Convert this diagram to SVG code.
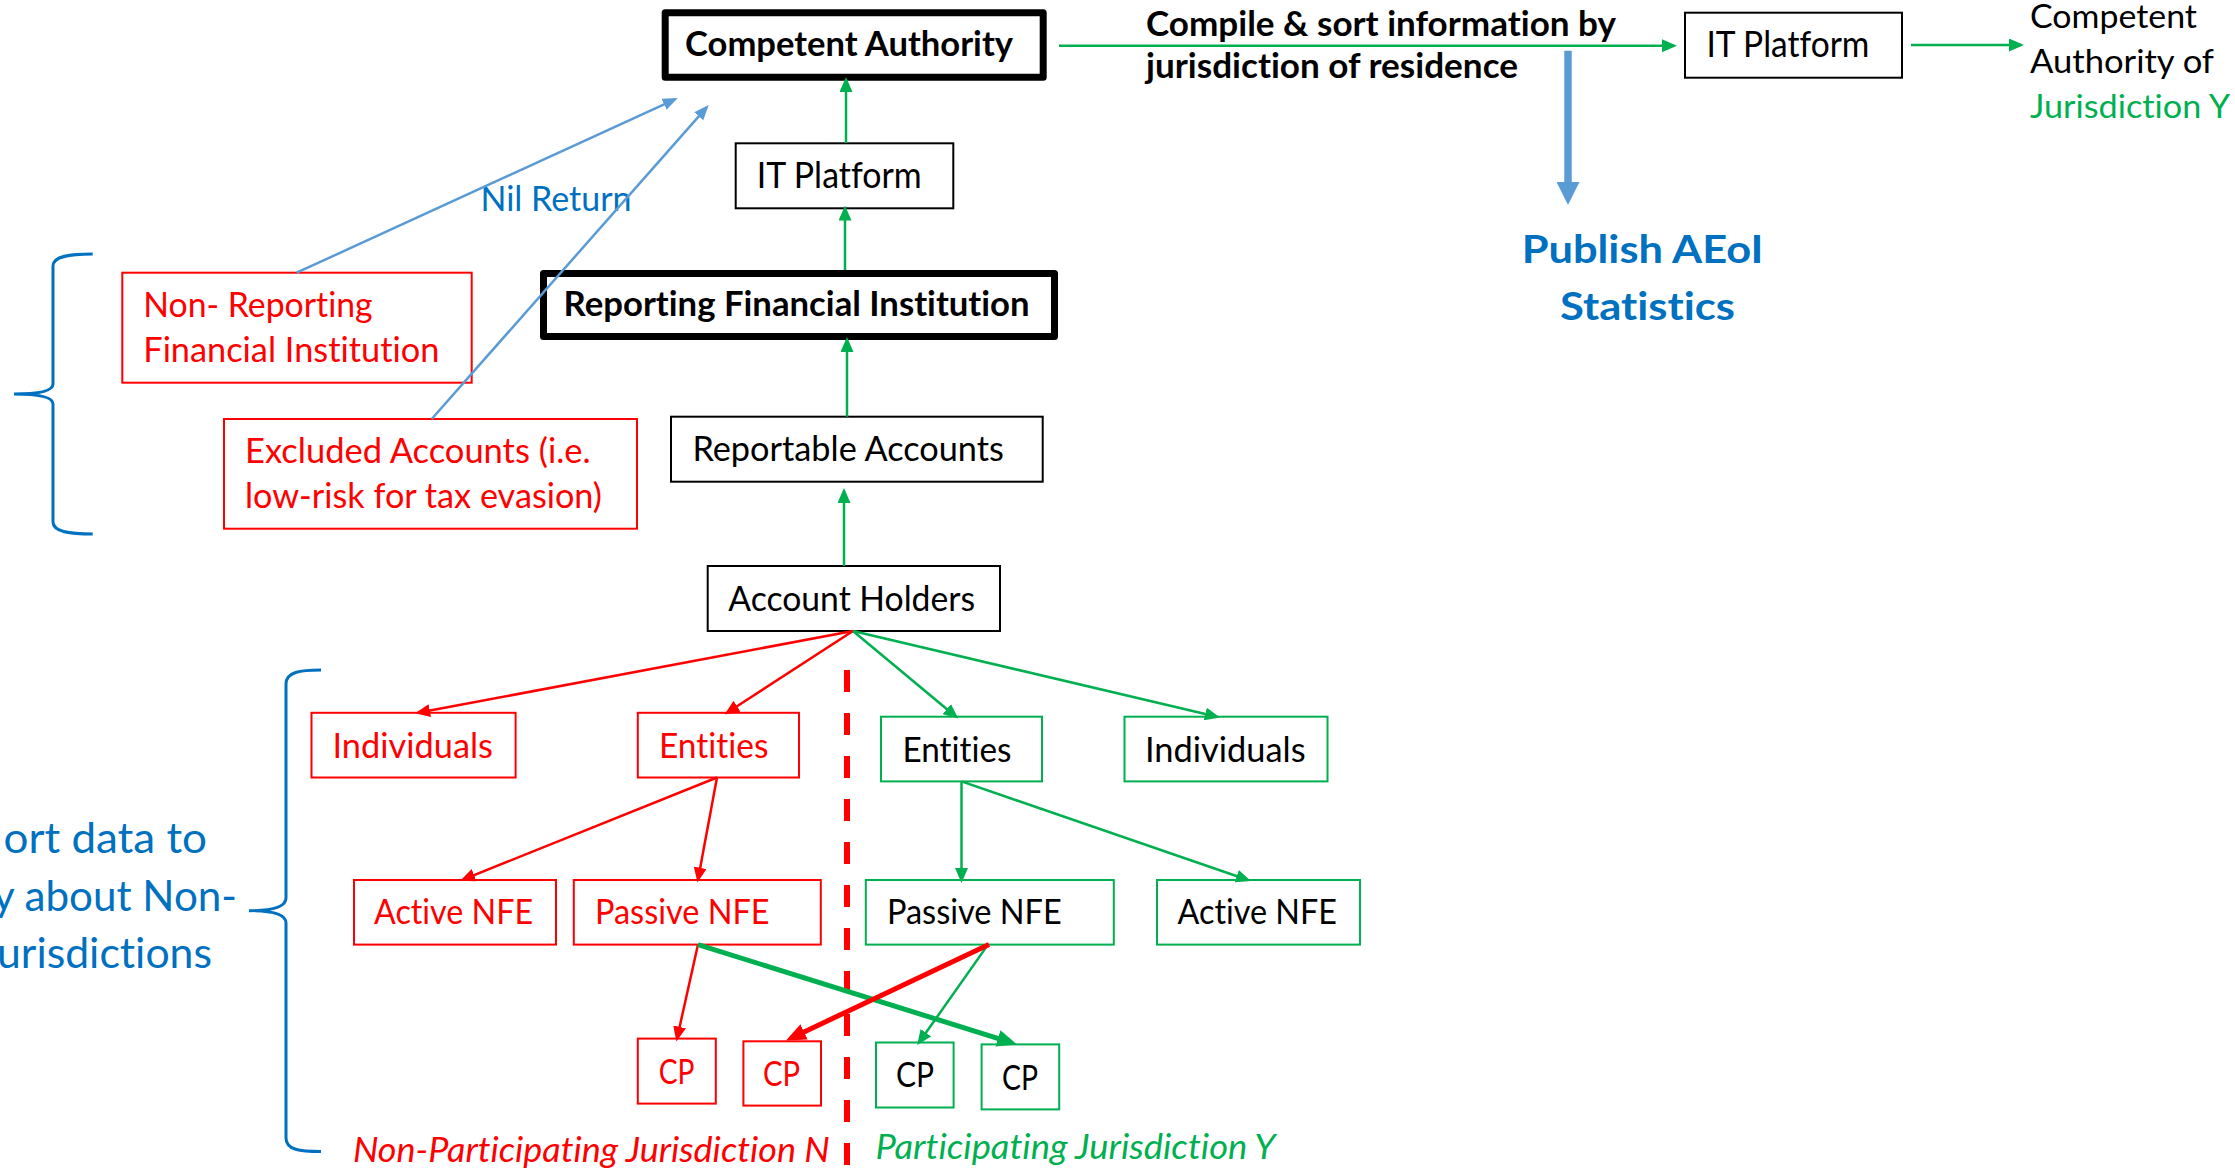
<svg xmlns="http://www.w3.org/2000/svg" width="2235" height="1171" viewBox="0 0 2235 1171">
  <style>
    text { font-family: Lato, "Open Sans", "Liberation Sans", sans-serif; font-size: 35.5px; fill: #000; font-variant-ligatures: none; }
    .b { font-weight: bold; font-size: 35px; }
    .it { font-style: italic; }
    .tr { fill: #FF0000; }
    .tg { fill: #00B050; }
    .tb { fill: #0070C0; }
    .box { fill: #fff; stroke: #000; stroke-width: 2; }
    .boxT { fill: #fff; stroke: #000; stroke-width: 7; stroke-linejoin: round; }
    .boxR { fill: #fff; stroke: #FF0000; stroke-width: 2; }
    .boxG { fill: #fff; stroke: #00B050; stroke-width: 2; }
    .cg { stroke: #00B050; stroke-width: 2.5; fill: none; }
    .cr { stroke: #FF0000; stroke-width: 2.5; fill: none; }
    .cb { stroke: #5B9BD5; stroke-width: 2.5; fill: none; }
    .brace { stroke: #0070C0; stroke-width: 3; fill: none; }
  </style>
  <defs>
    <marker id="ag" markerUnits="userSpaceOnUse" viewBox="0 0 15 13" markerWidth="15" markerHeight="13" refX="12" refY="6.5" orient="auto">
      <path d="M0,0 L15,6.5 L0,13 z" fill="#00B050"/>
    </marker>
    <marker id="ar" markerUnits="userSpaceOnUse" viewBox="0 0 15 13" markerWidth="15" markerHeight="13" refX="12" refY="6.5" orient="auto">
      <path d="M0,0 L15,6.5 L0,13 z" fill="#FF0000"/>
    </marker>
    <marker id="ab" markerUnits="userSpaceOnUse" viewBox="0 0 15 12" markerWidth="15" markerHeight="12" refX="12" refY="6" orient="auto">
      <path d="M0,0 L15,6 L0,12 z" fill="#5B9BD5"/>
    </marker>
    <marker id="agT" markerUnits="userSpaceOnUse" viewBox="0 0 20 17" markerWidth="20" markerHeight="17" refX="14" refY="8.5" orient="auto">
      <path d="M0,0 L20,8.5 L0,17 z" fill="#00B050"/>
    </marker>
    <marker id="arT" markerUnits="userSpaceOnUse" viewBox="0 0 20 17" markerWidth="20" markerHeight="17" refX="14" refY="8.5" orient="auto">
      <path d="M0,0 L20,8.5 L0,17 z" fill="#FF0000"/>
    </marker>
    <marker id="abB" markerUnits="userSpaceOnUse" viewBox="0 0 23 23" markerWidth="23" markerHeight="23" refX="15" refY="11.5" orient="auto">
      <path d="M0,0 L23,11.5 L0,23 z" fill="#5B9BD5"/>
    </marker>
  </defs>

  <rect width="2235" height="1171" fill="#fff"/>

  <!-- curly braces and side note -->
  <g id="braces">
    <path class="brace" d="M92.7,254 C70,254 53,256 53,266 L53,384 Q53,394 14,394 Q53,394 53,404 L53,522 C53,532 70,534 92.7,534"/>
    <path class="brace" d="M321,670 C300,670 286,672 286,684 L286,898 Q286,910.7 249,910.7 Q286,910.7 286,923 L286,1138 C286,1150 300,1151.6 321,1151.6"/>
  </g>
  <g id="side-note">
    <text class="tb" x="207" y="853" text-anchor="end" textLength="203.5" lengthAdjust="spacingAndGlyphs" style="font-size:42.5px">ort data to</text>
    <text class="tb" x="237" y="911" text-anchor="end" textLength="244" lengthAdjust="spacingAndGlyphs" style="font-size:42.5px">y about Non-</text>
    <text class="tb" x="212" y="968" text-anchor="end" textLength="215" lengthAdjust="spacingAndGlyphs" style="font-size:42.5px">urisdictions</text>
  </g>

  <!-- nodes -->
  <g id="competent-authority">
    <rect class="boxT" x="665.2" y="12.8" width="378" height="64.4"/>
    <text class="b" x="685" y="56" textLength="328" lengthAdjust="spacingAndGlyphs">Competent Authority</text>
  </g>
  <g id="it-platform-local">
    <rect class="box" x="735.7" y="143.3" width="217.6" height="65"/>
    <text x="756.7" y="188" textLength="165" lengthAdjust="spacingAndGlyphs" style="font-size:37px">IT Platform</text>
  </g>
  <g id="reporting-fi">
    <rect class="boxT" x="543.5" y="273.5" width="511" height="63"/>
    <text class="b" x="563.6" y="316" textLength="466" lengthAdjust="spacingAndGlyphs">Reporting Financial Institution</text>
  </g>
  <g id="reportable-accounts">
    <rect class="box" x="671" y="416.7" width="371.7" height="65"/>
    <text x="692.4" y="460.7" textLength="311.5" lengthAdjust="spacingAndGlyphs">Reportable Accounts</text>
  </g>
  <g id="account-holders">
    <rect class="box" x="707.7" y="566" width="292.3" height="65"/>
    <text x="728.3" y="611" textLength="246.7" lengthAdjust="spacingAndGlyphs">Account Holders</text>
  </g>
  <g id="non-reporting-fi">
    <rect class="boxR" x="122.3" y="272.7" width="349.4" height="110"/>
    <text class="tr" x="143.3" y="317.3" textLength="229.4" lengthAdjust="spacingAndGlyphs">Non- Reporting</text>
    <text class="tr" x="143.3" y="361.7" textLength="296" lengthAdjust="spacingAndGlyphs">Financial Institution</text>
  </g>
  <g id="excluded-accounts">
    <rect class="boxR" x="224" y="419" width="413" height="109.7"/>
    <text class="tr" x="245" y="462.7" textLength="345.7" lengthAdjust="spacingAndGlyphs">Excluded Accounts (i.e.</text>
    <text class="tr" x="245" y="507.8" textLength="357" lengthAdjust="spacingAndGlyphs">low-risk for tax evasion)</text>
  </g>
  <g id="nil-return-label">
    <text class="tb" x="480.5" y="210.7" textLength="151" lengthAdjust="spacingAndGlyphs">Nil Return</text>
  </g>
  <g id="compile-label">
    <text class="b" x="1146" y="36" textLength="470" lengthAdjust="spacingAndGlyphs">Compile &amp; sort information by</text>
    <text class="b" x="1146" y="78.3" textLength="372" lengthAdjust="spacingAndGlyphs">jurisdiction of residence</text>
  </g>
  <g id="it-platform-remote">
    <rect class="box" x="1685" y="12.7" width="217" height="65"/>
    <text x="1706.4" y="56.7" textLength="163" lengthAdjust="spacingAndGlyphs" style="font-size:37px">IT Platform</text>
  </g>
  <g id="authority-y">
    <text x="2030" y="28" textLength="167" lengthAdjust="spacingAndGlyphs" style="font-size:32px">Competent</text>
    <text x="2030" y="73" textLength="184" lengthAdjust="spacingAndGlyphs" style="font-size:33.5px">Authority of</text>
    <text class="tg" x="2030" y="118.3" textLength="200" lengthAdjust="spacingAndGlyphs" style="font-size:33.5px">Jurisdiction Y</text>
  </g>
  <g id="publish-stats">
    <text class="b tb" x="1521.7" y="262.7" textLength="241.7" lengthAdjust="spacingAndGlyphs" style="font-size:39px">Publish AEoI</text>
    <text class="b tb" x="1560" y="320" textLength="175" lengthAdjust="spacingAndGlyphs" style="font-size:39px">Statistics</text>
  </g>

  <g id="n-individuals">
    <rect class="boxR" x="311.5" y="712.8" width="204.1" height="64.7"/>
    <text class="tr" x="332.5" y="758" textLength="160.5" lengthAdjust="spacingAndGlyphs">Individuals</text>
  </g>
  <g id="n-entities">
    <rect class="boxR" x="637.8" y="712.8" width="161.2" height="64.7"/>
    <text class="tr" x="659" y="758" textLength="109.5" lengthAdjust="spacingAndGlyphs">Entities</text>
  </g>
  <g id="y-entities">
    <rect class="boxG" x="881" y="716.7" width="161" height="64.7"/>
    <text x="902.5" y="761.5" textLength="109" lengthAdjust="spacingAndGlyphs">Entities</text>
  </g>
  <g id="y-individuals">
    <rect class="boxG" x="1124.5" y="716.7" width="203" height="64.7"/>
    <text x="1145" y="761.5" textLength="160.6" lengthAdjust="spacingAndGlyphs">Individuals</text>
  </g>
  <g id="n-active-nfe">
    <rect class="boxR" x="354" y="880" width="202" height="64.6"/>
    <text class="tr" x="374" y="924.4" textLength="159" lengthAdjust="spacingAndGlyphs">Active NFE</text>
  </g>
  <g id="n-passive-nfe">
    <rect class="boxR" x="573.8" y="880" width="247" height="64.6"/>
    <text class="tr" x="595" y="924.4" textLength="174.6" lengthAdjust="spacingAndGlyphs">Passive NFE</text>
  </g>
  <g id="y-passive-nfe">
    <rect class="boxG" x="865.8" y="880" width="248" height="64.6"/>
    <text x="887" y="924.4" textLength="174.7" lengthAdjust="spacingAndGlyphs">Passive NFE</text>
  </g>
  <g id="y-active-nfe">
    <rect class="boxG" x="1157" y="880" width="203" height="64.6"/>
    <text x="1177.6" y="924.4" textLength="159.4" lengthAdjust="spacingAndGlyphs">Active NFE</text>
  </g>
  <g id="n-cp-1">
    <rect class="boxR" x="637.8" y="1038.6" width="78" height="65"/>
    <text class="tr" x="658.7" y="1084" textLength="35.7" lengthAdjust="spacingAndGlyphs">CP</text>
  </g>
  <g id="n-cp-2">
    <rect class="boxR" x="743.4" y="1041.3" width="77.6" height="64.3"/>
    <text class="tr" x="763" y="1086" textLength="37" lengthAdjust="spacingAndGlyphs">CP</text>
  </g>
  <g id="y-cp-1">
    <rect class="boxG" x="876" y="1042.5" width="77.6" height="65"/>
    <text x="896" y="1087" textLength="38" lengthAdjust="spacingAndGlyphs">CP</text>
  </g>
  <g id="y-cp-2">
    <rect class="boxG" x="981.6" y="1044.4" width="77.6" height="65"/>
    <text x="1002" y="1090" textLength="36" lengthAdjust="spacingAndGlyphs">CP</text>
  </g>
  <g id="jurisdiction-labels">
    <text class="it tr" x="352.9" y="1162" textLength="477" lengthAdjust="spacingAndGlyphs" style="font-size:34.5px">Non-Participating Jurisdiction N</text>
    <text class="it tg" x="875.5" y="1159" textLength="400" lengthAdjust="spacingAndGlyphs" style="font-size:34.5px">Participating Jurisdiction Y</text>
  </g>

  <!-- connectors -->
  <g id="connectors">
    <line class="cg" x1="846" y1="143" x2="846" y2="80" marker-end="url(#ag)"/>
    <line class="cg" x1="845" y1="270" x2="845" y2="208.5" marker-end="url(#ag)"/>
    <line class="cg" x1="847" y1="416.7" x2="847" y2="340" marker-end="url(#ag)"/>
    <line class="cg" x1="844" y1="566" x2="844" y2="491" marker-end="url(#ag)"/>
    <line class="cg" x1="1059" y1="45.7" x2="1674" y2="45.7" marker-end="url(#ag)"/>
    <line class="cg" x1="1911" y1="45" x2="2021" y2="45" marker-end="url(#ag)"/>
    <line stroke="#5B9BD5" stroke-width="7.5" x1="1568" y1="50.7" x2="1568" y2="197" marker-end="url(#abB)"/>
    <line class="cb" x1="296.7" y1="272.7" x2="675" y2="99.3" marker-end="url(#ab)"/>
    <line class="cb" x1="431.7" y1="419" x2="706.7" y2="107.3" marker-end="url(#ab)"/>

    <line class="cr" x1="853" y1="631" x2="418" y2="712.8" marker-end="url(#ar)"/>
    <line class="cr" x1="853" y1="631" x2="727" y2="712.8" marker-end="url(#ar)"/>
    <line class="cg" x1="853" y1="631" x2="956" y2="716.7" marker-end="url(#ag)"/>
    <line class="cg" x1="853" y1="631" x2="1217" y2="716.7" marker-end="url(#ag)"/>

    <line class="cr" x1="717" y1="777.5" x2="463" y2="879.6" marker-end="url(#ar)"/>
    <line class="cr" x1="717" y1="777.5" x2="698" y2="879.6" marker-end="url(#ar)"/>
    <line class="cg" x1="961.5" y1="781.4" x2="961.5" y2="880" marker-end="url(#ag)"/>
    <line class="cg" x1="961.5" y1="781.4" x2="1248" y2="880" marker-end="url(#ag)"/>

    <line class="cr" x1="698" y1="944.6" x2="677" y2="1038.6" marker-end="url(#ar)"/>
    <line class="cg" x1="988" y1="944.6" x2="919" y2="1042.5" marker-end="url(#ag)"/>

    <line stroke="#FF0000" stroke-width="6" stroke-dasharray="22 21" x1="847" y1="670" x2="847" y2="1168"/>
    <line stroke="#00B050" stroke-width="5" x1="698" y1="944.6" x2="1011.3" y2="1042.6" marker-end="url(#agT)"/>
    <line stroke="#FF0000" stroke-width="5" x1="989" y1="944.6" x2="791.4" y2="1037.9" marker-end="url(#arT)"/>
  </g>
</svg>
